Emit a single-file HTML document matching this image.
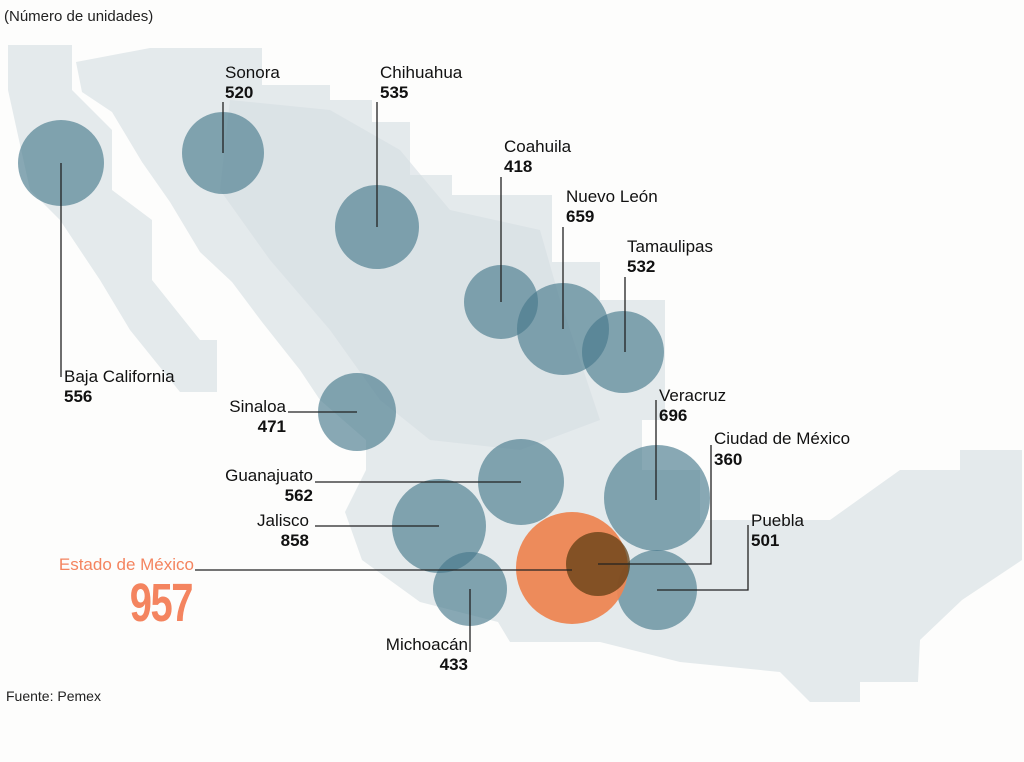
<!DOCTYPE html>
<html><head><meta charset="utf-8"><style>
html,body{margin:0;padding:0;background:#fdfdfc;}
svg{display:block;font-family:"Liberation Sans",sans-serif;}
.l{font-size:17px;fill:#111;}
.n{font-size:17px;font-weight:bold;fill:#111;}
.ln{stroke:#222;stroke-width:1.3;fill:none;}
.c{fill:#46788c;fill-opacity:.64;}
</style></head><body>
<svg width="1024" height="762" viewBox="0 0 1024 762">
<rect width="1024" height="762" fill="#fdfdfc"/>
<g fill="#e4eaec">
<polygon points="8,45 72,45 72,90 112,130 112,190 152,220 152,280 200,340 217,340 217,392 180,392 130,330 100,280 60,220 30,190 8,90"/>
<polygon points="150,48 262,48 262,85 330,85 330,100 372,100 372,122 410,122 410,175 452,175 452,195 552,195 552,262 600,262 600,300 665,300 665,420 642,420 642,470 700,470 700,520 830,520 900,470 960,470 960,450 1022,450 1022,560 962,600 920,640 918,682 860,682 860,702 810,702 780,672 680,662 600,642 510,642 498,622 420,602 362,560 345,512 366,470 366,440 320,400 300,370 262,322 232,282 200,252 170,202 142,162 112,112 82,92 76,62"/>
</g>
<g fill="#d6dee2" opacity=".6">
<polygon points="230,100 330,110 400,150 450,210 540,230 560,300 600,420 520,450 430,440 380,400 330,330 270,260 220,190"/>
</g>
<text x="4" y="21" style="font-size:15px" fill="#222">(Número de unidades)</text>
<text x="6" y="701" style="font-size:14px" fill="#222">Fuente: Pemex</text>

<circle class="c" cx="61" cy="163" r="43"/>
<circle class="c" cx="223" cy="153" r="41"/>
<circle class="c" cx="377" cy="227" r="42"/>
<circle class="c" cx="501" cy="302" r="37"/>
<circle class="c" cx="563" cy="329" r="46"/>
<circle class="c" cx="623" cy="352" r="41"/>
<circle class="c" cx="357" cy="412" r="39"/>
<circle class="c" cx="521" cy="482" r="43"/>
<circle class="c" cx="439" cy="526" r="47"/>
<circle class="c" cx="657" cy="498" r="53"/>
<circle class="c" cx="657" cy="590" r="40"/>
<circle class="c" cx="470" cy="589" r="37"/>
<circle cx="572" cy="568" r="56" fill="#ed8653" fill-opacity=".95"/>
<circle cx="598" cy="564" r="32" fill="#5a3a10" fill-opacity=".72"/>

<g class="ln">
<path d="M223,102V153"/><path d="M377,102V227"/><path d="M501,177V302"/>
<path d="M563,227V329"/><path d="M625,277V352"/><path d="M61,163V377"/>
<path d="M288,412H357"/><path d="M315,482H521"/><path d="M315,526H439"/>
<path d="M195,570H572"/><path d="M470,589V652"/><path d="M656,400V500"/>
<path d="M711,445V564H598"/><path d="M748,525V590H657"/>
</g>

<text class="l" x="225" y="78">Sonora</text><text class="n" x="225" y="98">520</text>
<text class="l" x="380" y="78">Chihuahua</text><text class="n" x="380" y="98">535</text>
<text class="l" x="504" y="152">Coahuila</text><text class="n" x="504" y="172">418</text>
<text class="l" x="566" y="202">Nuevo León</text><text class="n" x="566" y="222">659</text>
<text class="l" x="627" y="252">Tamaulipas</text><text class="n" x="627" y="272">532</text>
<text class="l" x="64" y="382">Baja California</text><text class="n" x="64" y="402">556</text>
<text class="l" x="286" y="412" text-anchor="end">Sinaloa</text><text class="n" x="286" y="432" text-anchor="end">471</text>
<text class="l" x="313" y="481" text-anchor="end">Guanajuato</text><text class="n" x="313" y="501" text-anchor="end">562</text>
<text class="l" x="309" y="526" text-anchor="end">Jalisco</text><text class="n" x="309" y="546" text-anchor="end">858</text>
<text x="194" y="570" text-anchor="end" style="font-size:17px" fill="#f4845f">Estado de México</text>
<text x="192" y="621" text-anchor="end" style="font-size:54px;font-weight:bold;letter-spacing:-2px" fill="#f4845f" transform="translate(192,621) scale(0.74,1) translate(-192,-621)">957</text>
<text class="l" x="468" y="650" text-anchor="end">Michoacán</text><text class="n" x="468" y="670" text-anchor="end">433</text>
<text class="l" x="659" y="401">Veracruz</text><text class="n" x="659" y="421">696</text>
<text class="l" x="714" y="444">Ciudad de México</text><text class="n" x="714" y="465">360</text>
<text class="l" x="751" y="526">Puebla</text><text class="n" x="751" y="546">501</text>
</svg>
</body></html>
